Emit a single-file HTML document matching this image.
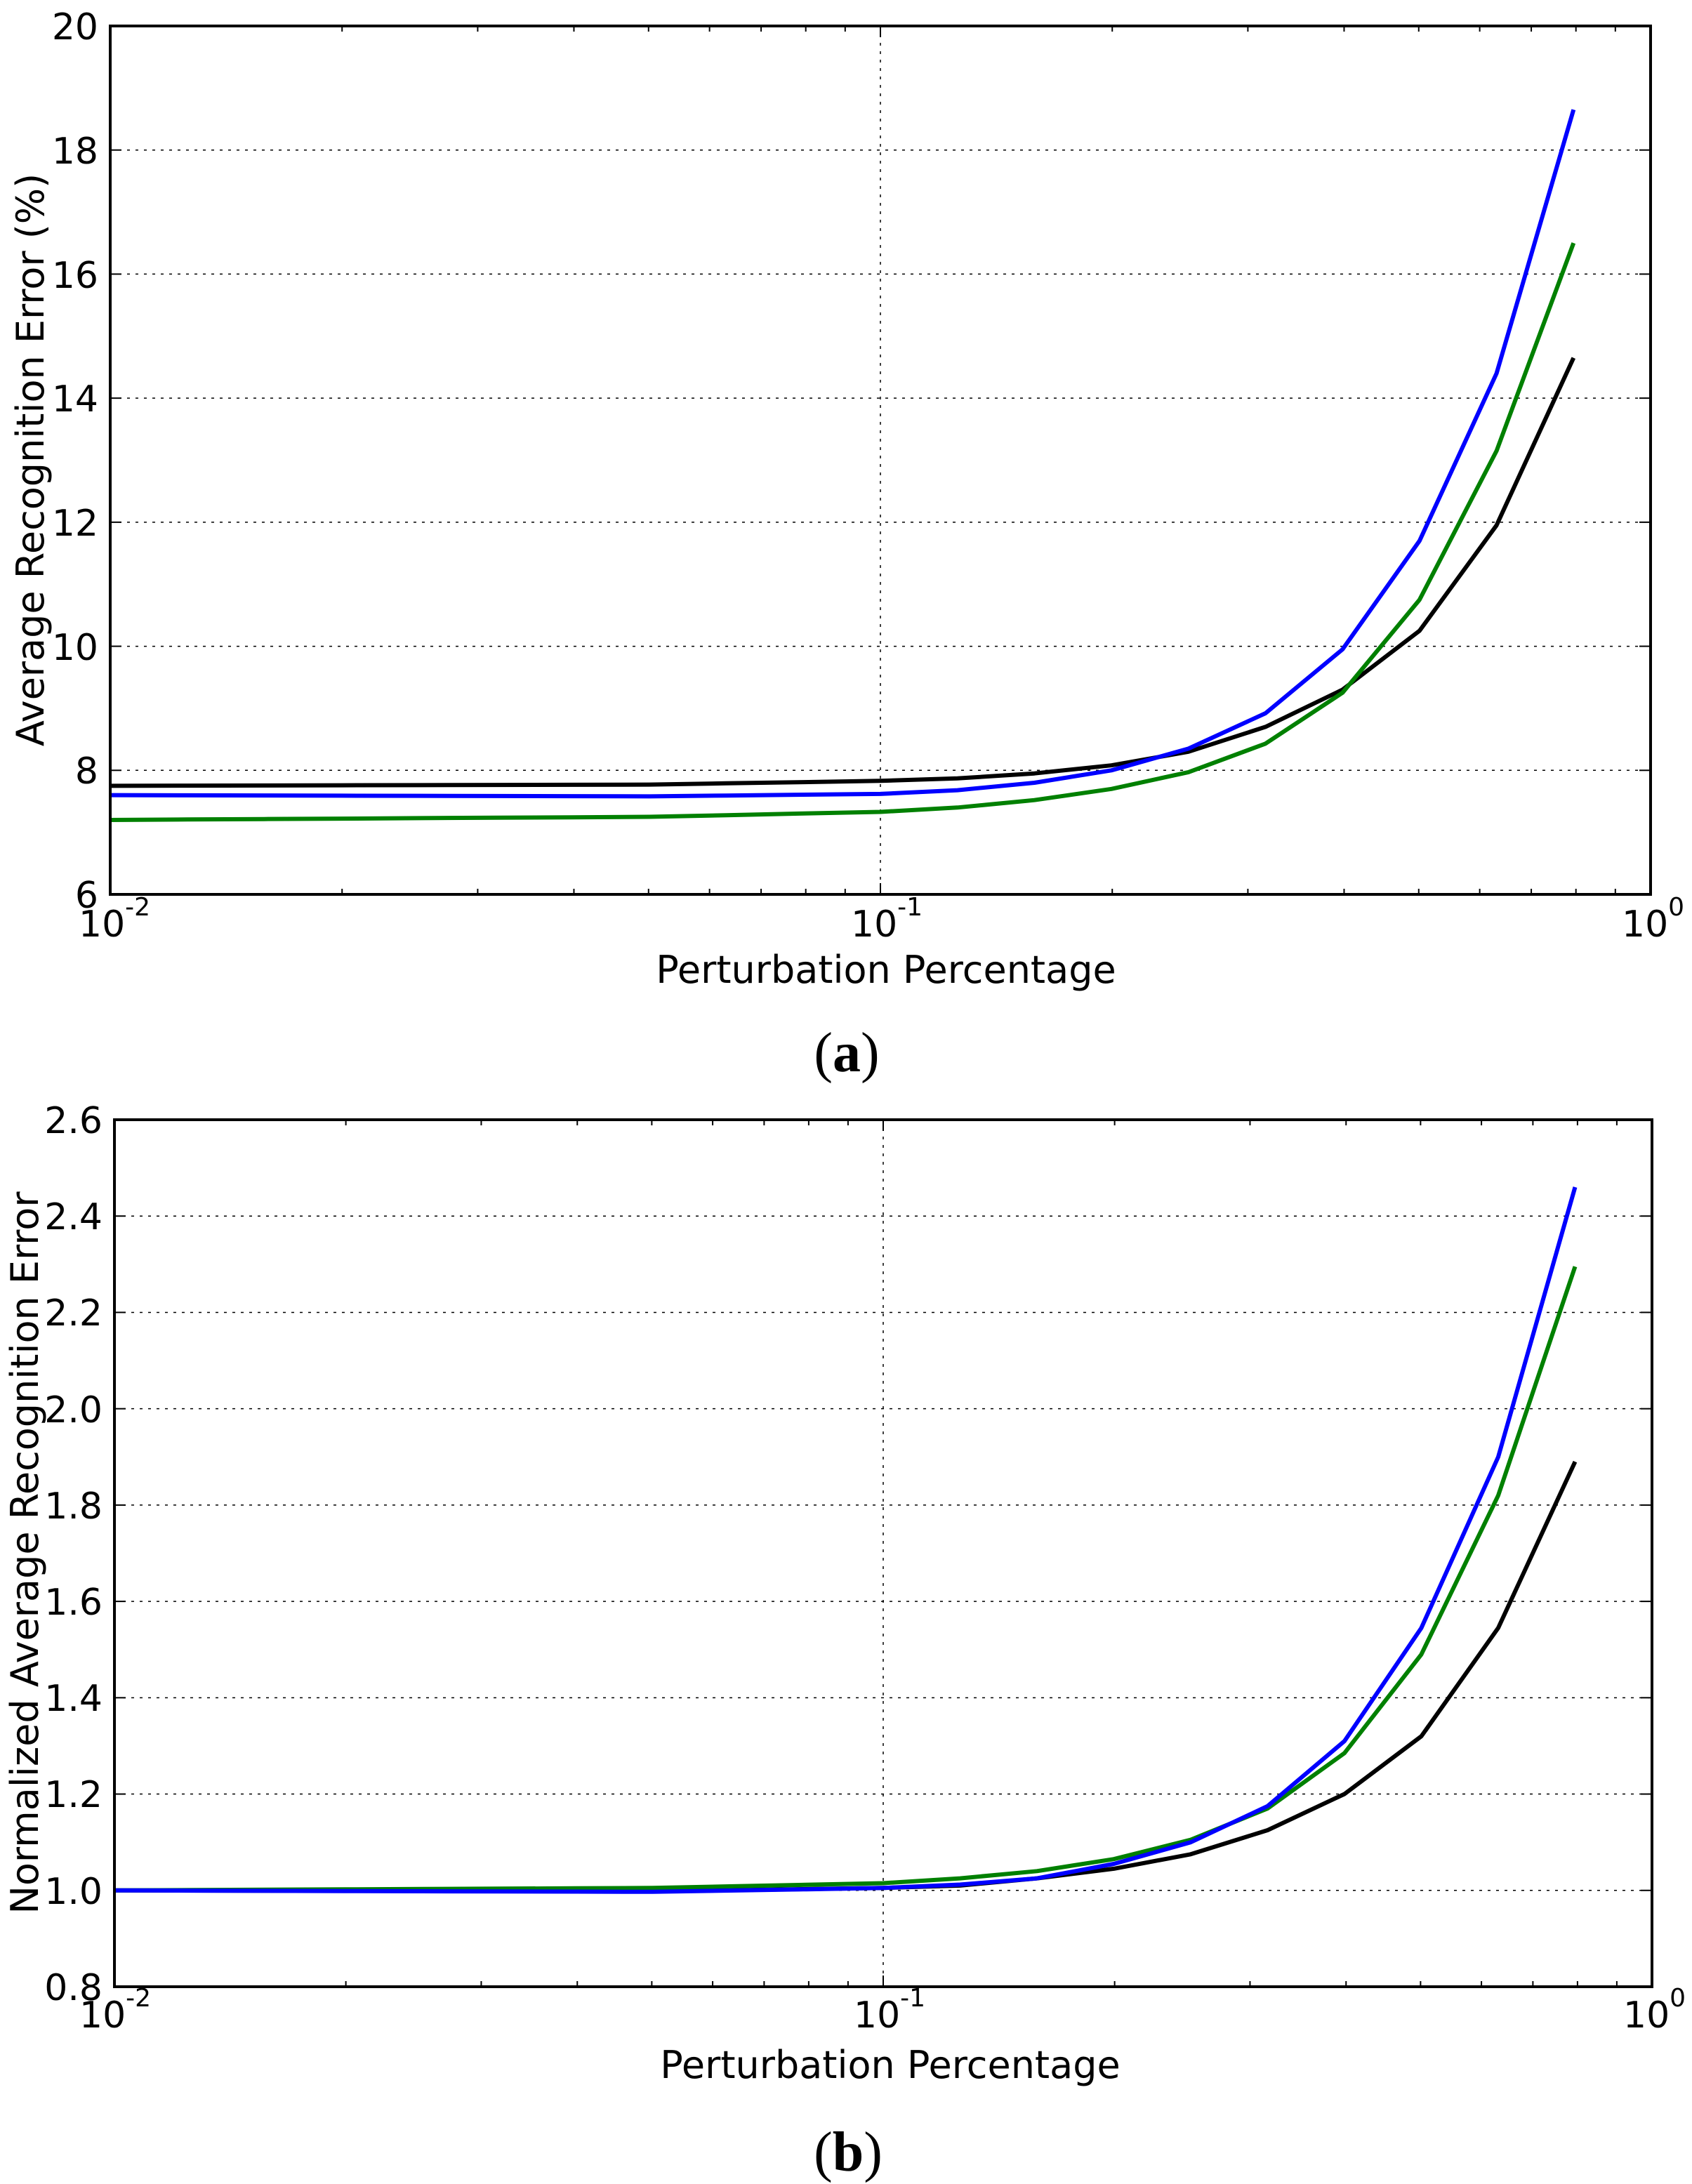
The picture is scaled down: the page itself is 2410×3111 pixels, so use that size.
<!DOCTYPE html>
<html><head><meta charset="utf-8"><style>
html,body{margin:0;padding:0;background:#fff;}
svg{display:block;}
text{font-family:"DejaVu Sans","Liberation Sans",sans-serif;fill:#000;}
.t{font-size:52px;}
.xl{font-size:54px;}
.s{font-size:36px;}
.cap{font-family:"Liberation Serif",serif;font-size:80px;}
</style></head><body>
<svg id="s" width="2410" height="3111" viewBox="0 0 2410 3111" xmlns="http://www.w3.org/2000/svg">
<g id="g"></g>
<g class="t" text-anchor="end">
<text x="140" y="56">20</text><text x="140" y="233">18</text><text x="140" y="410">16</text>
<text x="140" y="586">14</text><text x="140" y="763">12</text><text x="140" y="940">10</text>
<text x="140" y="1116">8</text><text x="140" y="1293">6</text>
</g>
<g class="t">
<text x="112" y="1334">10<tspan class="s" dy="-30">-2</tspan></text>
<text x="1212" y="1334">10<tspan class="s" dy="-30">-1</tspan></text>
<text x="2310" y="1334">10<tspan class="s" dy="-30">0</tspan></text>
</g>
<text class="xl" x="1262" y="1400" text-anchor="middle">Perturbation Percentage</text>
<text class="xl" x="62" y="655" text-anchor="middle" transform="rotate(-90 62 655)">Average Recognition Error (%)</text>
<text class="cap" x="1206" y="1526" text-anchor="middle">(<tspan font-weight="bold">a</tspan>)</text>
<g class="t" text-anchor="end">
<text x="146" y="1614">2.6</text><text x="146" y="1751">2.4</text><text x="146" y="1888">2.2</text>
<text x="146" y="2026">2.0</text><text x="146" y="2163">1.8</text><text x="146" y="2300">1.6</text>
<text x="146" y="2437">1.4</text><text x="146" y="2574">1.2</text><text x="146" y="2712">1.0</text>
<text x="146" y="2849">0.8</text>
</g>
<g class="t">
<text x="113" y="2888">10<tspan class="s" dy="-30">-2</tspan></text>
<text x="1216" y="2888">10<tspan class="s" dy="-30">-1</tspan></text>
<text x="2312" y="2888">10<tspan class="s" dy="-30">0</tspan></text>
</g>
<text class="xl" x="1268" y="2960" text-anchor="middle">Perturbation Percentage</text>
<text class="xl" x="54" y="2212" text-anchor="middle" transform="rotate(-90 54 2212)">Normalized Average Recognition Error</text>
<text class="cap" x="1208" y="3092" text-anchor="middle">(<tspan font-weight="bold">b</tspan>)</text>
</svg>
<script>
var g=document.getElementById('g'),NS='http://www.w3.org/2000/svg';
function el(n,a){var e=document.createElementNS(NS,n);for(var k in a)e.setAttribute(k,a[k]);g.appendChild(e);return e;}
function chart(L,T,R,B,ymax,ymin,ystep,series){
 var dec=(R-L)/2;
 var X=function(v){return L+(Math.log10(v)+2)*dec;};
 var Y=function(v){return T+(ymax-v)/(ymax-ymin)*(B-T);};
 for(var v=ymin+ystep;v<ymax-1e-9;v+=ystep){var y=Y(v);el('line',{x1:L,x2:R,y1:y,y2:y,stroke:'#000','stroke-width':1.5,'stroke-dasharray':'4 8'});}
 el('line',{x1:X(0.1),x2:X(0.1),y1:T,y2:B,stroke:'#000','stroke-width':1.5,'stroke-dasharray':'4 8'});
 for(var d=-2;d<0;d++)for(var m=1;m<10;m++){var x=X(m*Math.pow(10,d));var len=m==1?16:8;
  el('line',{x1:x,x2:x,y1:B,y2:B-len,stroke:'#000','stroke-width':2});el('line',{x1:x,x2:x,y1:T,y2:T+len,stroke:'#000','stroke-width':2});}
 for(var v=ymin;v<=ymax+1e-9;v+=ystep){var y=Y(v);el('line',{x1:L,x2:L+16,y1:y,y2:y,stroke:'#000','stroke-width':2});el('line',{x1:R,x2:R-16,y1:y,y2:y,stroke:'#000','stroke-width':2});}
 series.forEach(function(s){
  var kx=s.k.map(function(p){return Math.log10(p[0]);});
  var pts=[];
  for(var i=0;i<=19;i++){var lx=-2+i/10;var j=0;while(j<kx.length-2&&lx>kx[j+1]+1e-9)j++;
   var t=(lx-kx[j])/(kx[j+1]-kx[j]);var v=s.k[j][1]+t*(s.k[j+1][1]-s.k[j][1]);
   pts.push(X(Math.pow(10,lx)).toFixed(1)+','+Y(v).toFixed(1));}
  el('polyline',{points:pts.join(' '),fill:'none',stroke:s.c,'stroke-width':6,'stroke-linejoin':'round'});
 });
 el('rect',{x:L,y:T,width:R-L,height:B-T,fill:'none',stroke:'#000','stroke-width':4});
}
var xs=[0.01,0.05,0.1,0.1259,0.1585,0.1995,0.2512,0.3162,0.3981,0.5012,0.631,0.7943];
function mk(a){return xs.map(function(x,i){return [x,a[i]];});}
chart(157,37,2351,1274,20,6,2,[
 {c:'#000000',k:mk([7.75,7.77,7.83,7.87,7.95,8.08,8.3,8.7,9.3,10.25,11.95,14.65])},
 {c:'#008000',k:mk([7.2,7.25,7.33,7.4,7.52,7.7,7.97,8.43,9.25,10.75,13.15,16.5])},
 {c:'#0000ff',k:mk([7.6,7.58,7.62,7.68,7.8,8.0,8.35,8.92,9.95,11.7,14.4,18.65])}
]);
chart(163,1595,2353,2830,2.6,0.8,0.2,[
 {c:'#000000',k:mk([1.0,0.998,1.005,1.01,1.025,1.045,1.075,1.125,1.2,1.32,1.545,1.89])},
 {c:'#008000',k:mk([1.0,1.005,1.015,1.025,1.04,1.065,1.105,1.17,1.285,1.49,1.82,2.295])},
 {c:'#0000ff',k:mk([1.0,0.997,1.005,1.012,1.025,1.055,1.10,1.175,1.31,1.545,1.9,2.46])}
]);
</script>
</body></html>
